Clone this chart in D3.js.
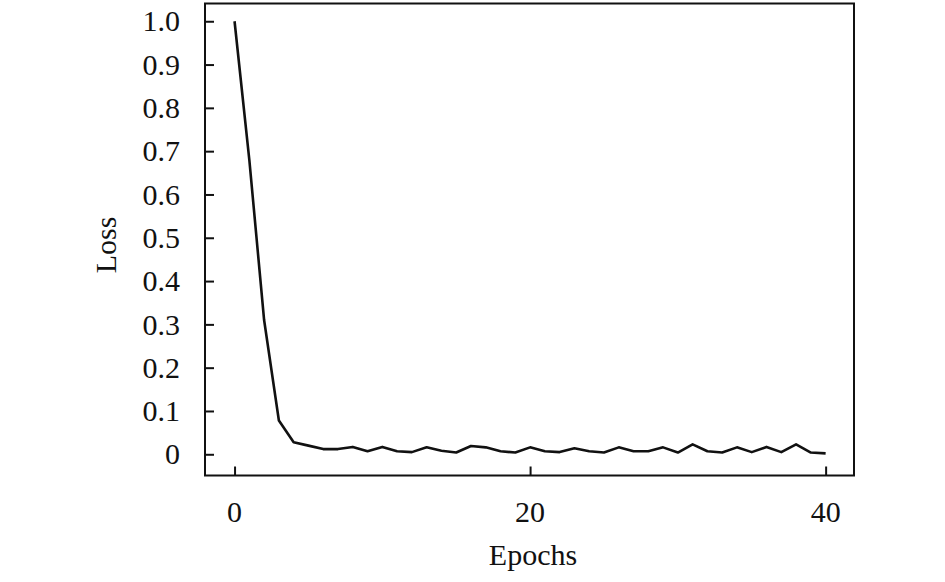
<!DOCTYPE html>
<html>
<head>
<meta charset="utf-8">
<script src="https://cdn.jsdelivr.net/npm/d3@7/dist/d3.min.js"></script>
<style>
  html, body { margin: 0; padding: 0; background: #fff; }
  svg { display: block; }
  text { font-family: "Liberation Serif", "Times New Roman", serif; fill: #111; }
</style>
</head>
<body>
<div id="chart"></div>
<script>
// loss per epoch
const epochs = d3.range(0, 41);
const loss = [
  1.0, 0.68, 0.31, 0.078, 0.028, 0.02, 0.012, 0.012, 0.017, 0.007,
  0.017, 0.007, 0.005, 0.016, 0.008, 0.004, 0.019, 0.016, 0.007, 0.004,
  0.016, 0.007, 0.005, 0.014, 0.007, 0.004, 0.016, 0.007, 0.007, 0.016,
  0.004, 0.023, 0.007, 0.004, 0.016, 0.005, 0.017, 0.005, 0.023, 0.004,
  0.002
];
const xTicks = [0, 20, 40];
const yTicks = [0, 0.1, 0.2, 0.3, 0.4, 0.5, 0.6, 0.7, 0.8, 0.9, 1.0];
const yTickLabels = ['0', '0.1', '0.2', '0.3', '0.4', '0.5', '0.6', '0.7', '0.8', '0.9', '1.0'];

const width = 945, height = 582;
const plotLeft = 205, plotRight = 854, plotTop = 3.5, plotBottom = 475.5;

const svg = d3.select('#chart')
  .append('svg')
  .attr('width', width)
  .attr('height', height);

const x = d3.scaleLinear().domain([-2, 41.92]).range([plotLeft, plotRight]);
const y = d3.scaleLinear().domain([-0.049, 1.041]).range([plotBottom, plotTop]);

// frame
svg.append('rect')
  .attr('x', plotLeft)
  .attr('y', plotTop)
  .attr('width', plotRight - plotLeft)
  .attr('height', plotBottom - plotTop)
  .attr('fill', 'none')
  .attr('stroke', '#111')
  .attr('stroke-width', 2);

// y axis: inward ticks, labels to the left
const yAxis = svg.append('g')
  .attr('transform', 'translate(' + plotLeft + ',0)')
  .call(d3.axisRight(y).tickValues(yTicks).tickSize(9).tickFormat(''));
yAxis.select('.domain').remove();
yAxis.selectAll('line').attr('stroke', '#111').attr('stroke-width', 2);

svg.append('g').selectAll('text')
  .data(yTicks)
  .enter()
  .append('text')
  .attr('x', 180)
  .attr('y', d => y(d))
  .attr('text-anchor', 'end')
  .attr('dy', '0.34em')
  .style('font-size', '30px')
  .text((d, i) => yTickLabels[i]);

// x axis: inward ticks, labels below
const xAxis = svg.append('g')
  .attr('transform', 'translate(0,' + plotBottom + ')')
  .call(d3.axisTop(x).tickValues(xTicks).tickSize(9).tickFormat(''));
xAxis.select('.domain').remove();
xAxis.selectAll('line').attr('stroke', '#111').attr('stroke-width', 2);

svg.append('g').selectAll('text')
  .data(xTicks)
  .enter()
  .append('text')
  .attr('x', d => x(d))
  .attr('y', 521.5)
  .attr('text-anchor', 'middle')
  .style('font-size', '30px')
  .text(d => d);

// axis titles
svg.append('text')
  .attr('x', 533)
  .attr('y', 565)
  .attr('text-anchor', 'middle')
  .style('font-size', '30px')
  .text('Epochs');

svg.append('text')
  .attr('transform', 'translate(116,245) rotate(-90)')
  .attr('text-anchor', 'middle')
  .style('font-size', '30px')
  .text('Loss');

// loss curve
const line = d3.line()
  .x((d, i) => x(epochs[i]))
  .y(d => y(d));

svg.append('path')
  .datum(loss)
  .attr('d', line)
  .attr('fill', 'none')
  .attr('stroke', '#111')
  .attr('stroke-width', 2.6)
  .attr('stroke-linejoin', 'round');
</script>
</body>
</html>
